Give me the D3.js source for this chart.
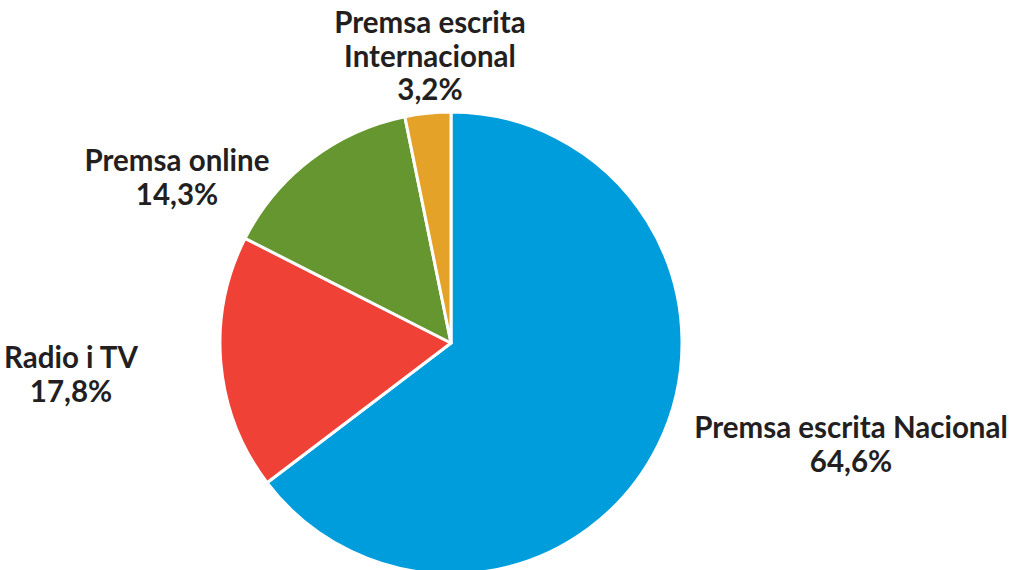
<!DOCTYPE html>
<html><head><meta charset="utf-8">
<script src="https://cdn.jsdelivr.net/npm/d3@7"></script>
<style>body{margin:0;background:#fff}svg{display:block}</style>
</head><body>
<svg id="c" width="1013" height="570"></svg>
<script>
const categories = ["Premsa escrita Nacional", "Radio i TV", "Premsa online", "Premsa escrita Internacional"];
const values = [64.6, 17.8, 14.3, 3.2];
const valueLabels = ["64,6%", "17,8%", "14,3%", "3,2%"];
const labelLines = [["Premsa escrita Nacional"], ["Radio i TV"], ["Premsa online"], ["Premsa escrita", "Internacional"]];
const colors = ["#009ddc", "#ef4136", "#66962f", "#e4a229"];

// layout (label anchor = baseline of first line, centred)
const labelPos = [[851, 438], [71, 368], [177, 171], [430, 33]];

const svg = d3.select("#c");
const cx = 451, cy = 343, R = 231;
const pie = d3.pie().sort(null).value(d => d)(values);
const arc = d3.arc().innerRadius(0).outerRadius(R);
const g = svg.append("g").attr("transform", `translate(${cx},${cy})`);
g.selectAll("path").data(pie).join("path")
  .attr("d", arc)
  .attr("fill", (d, i) => colors[i])
  .attr("stroke", "#fff").attr("stroke-width", 3).attr("stroke-linejoin", "round");

const lh = 33.5;
categories.forEach((c, i) => {
  const lines = labelLines[i].concat([valueLabels[i]]);
  const t = svg.append("text")
    .attr("x", labelPos[i][0]).attr("y", labelPos[i][1])
    .attr("text-anchor", "middle")
    .attr("font-family", "Lato, 'Open Sans', sans-serif")
    .attr("font-weight", "bold").attr("font-size", 29.5)
    .attr("fill", "#231f20");
  lines.forEach((l, j) => {
    t.append("tspan").attr("x", labelPos[i][0]).attr("dy", j === 0 ? 0 : lh).text(l);
  });
});
</script>
</body></html>
